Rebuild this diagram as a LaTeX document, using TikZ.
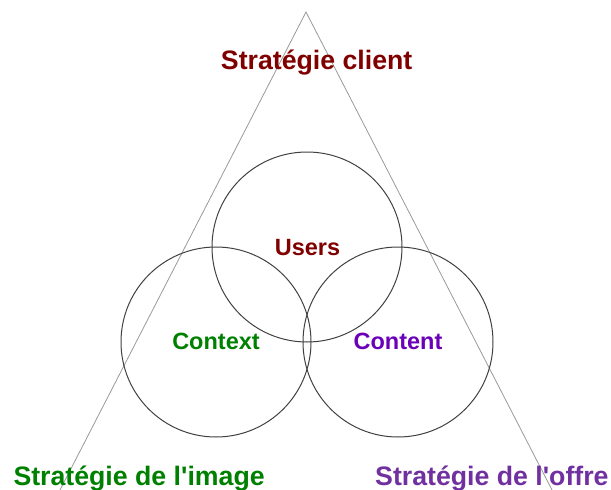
\documentclass[tikz,border=0pt]{standalone}
\usepackage{fontspec}
\setmainfont{Liberation Sans}[Ligatures=TeXOff]
\definecolor{cred}{HTML}{800000}
\definecolor{cgreen}{HTML}{008000}
\definecolor{cpurple}{HTML}{6A00B8}
\definecolor{cpurple2}{HTML}{7030A0}
\begin{document}
\begin{tikzpicture}[x=1pt,y=-1pt,
  ring/.style={circle,draw=black!75,line width=1pt,minimum size=190pt,inner sep=0pt},
  side/.style={draw=black!40,line width=0.8pt},
  biglab/.style={font=\fontsize{26.7}{30}\selectfont\bfseries,inner sep=0pt},
  smalllab/.style={font=\fontsize{23.5}{27}\selectfont\bfseries,inner sep=0pt}]
\useasboundingbox (0,0) rectangle (611,490);
\coordinate (apex) at (306,12);
\coordinate (bl) at (60,490);
\coordinate (br) at (552,490);
\draw[side] (bl) -- (apex) -- (br);
\node[ring] (users) at (307,247) {};
\node[ring] (context) at (216,342) {};
\node[ring] (content) at (398,342) {};
\node[biglab,text=cred,anchor=base] (client) at (316.7,69.5) {Stratégie client};
\node[smalllab,text=cred,anchor=base] (lusers) at (307.5,255) {Users};
\node[smalllab,text=cgreen,anchor=base] (lcontext) at (216,349) {Context};
\node[smalllab,text=cpurple,anchor=base] (lcontent) at (398,349) {Content};
\node[biglab,text=cgreen,anchor=base west] (image) at (13.3,485.7) {Stratégie de l'image};
\node[biglab,text=cpurple2,anchor=base west] (offre) at (375,485.7) {Stratégie de l'offre};
\end{tikzpicture}
\end{document}
